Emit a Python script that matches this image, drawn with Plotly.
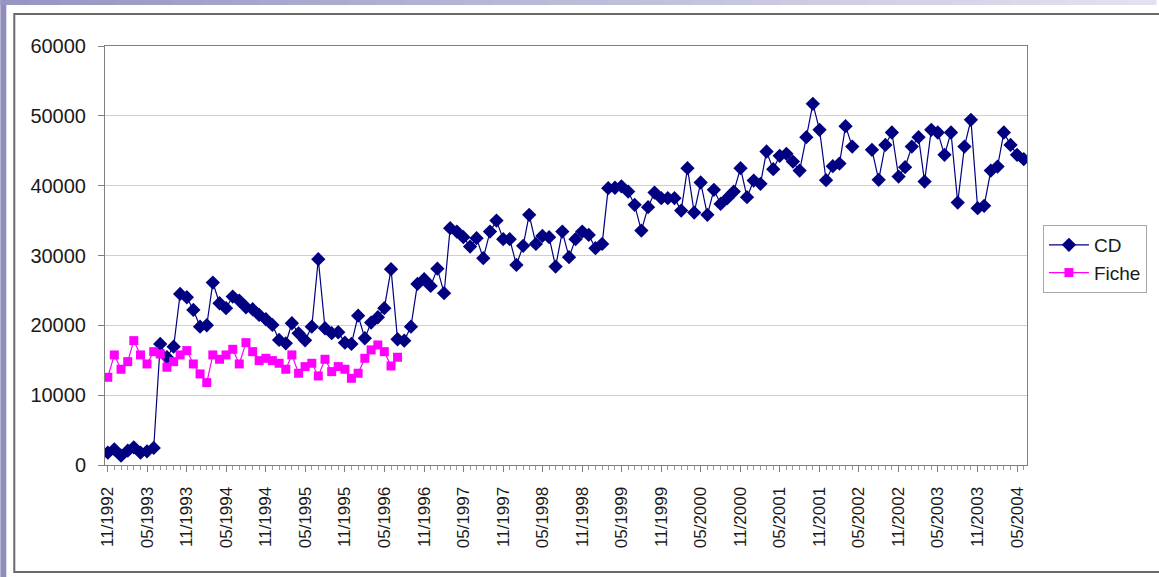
import pandas as pd
import plotly.graph_objects as go

# ---- data ----
start_month = "1992-11-01"
n_months = 140
months = pd.date_range(start_month, periods=n_months, freq="MS")

cd_values = [
    1770, 2250, 1340, 2050, 2530, 1770, 1960, 2440, 17340, 15430,
    16950, 24500, 24020, 22200, 19810, 20010, 26120, 23160, 22450, 24120,
    23540, 22590, 22300, 21490, 20870, 20060, 17910, 17430, 20300, 18850,
    17850, 19810, 29470, 19580, 18870, 19010, 17520, 17340, 21390, 18150,
    20390, 21160, 22450, 28040, 18010, 17810, 19810, 25930, 26600, 25640,
    28120, 24600, 33910, 33420, 32620, 31280, 32480, 29610, 33420, 35000,
    32340, 32340, 28650, 31380, 35820, 31660, 32810, 32620, 28410, 33420,
    29760, 32340, 33420, 32950, 31050, 31660, 39640, 39700, 39900, 39160,
    37250, 33570, 36920, 39010, 38210, 38210, 38210, 36430, 42510, 36150,
    40450, 35820, 39400, 37390, 38210, 39160, 42510, 38350, 40730, 40260,
    44890, 42360, 44270, 44560, 43450, 42160, 46950, 51720, 47990, 40780,
    42790, 43170, 48520, 45600, None, None, 45130, 40830, 45840, 47610,
    41300, 42650, 45600, 46950, 40590, 47990, 47610, 44410, 47610, 37580,
    45600, 49430, 36780, 37110, 42160, 42740, 47610, 45840, 44410, 43800,
]

fiche_values = [
    12560, 15760, 13710, 14800, 17810, 15760, 14470, 16230, 15900, 14000,
    14800, 15760, 16380, 14470, 13040, 11800, 15760, 15140, 15760, 16570,
    14470, 17520, 16230, 14950, 15280, 14950, 14570, 13710, 15760, 13140,
    14090, 14570, 12750, 15140, 13370, 14090, 13710, 12420, 13140, 15280,
    16480, 17190, 16230, 14180, 15430,
]

series_names = ["CD", "Fiche"]
y_ticks = [0, 10000, 20000, 30000, 40000, 50000, 60000]

# ---- geometry helpers (pixel -> paper) ----
W, H = 1159, 577
L, R, T, B = 105, 129, 46, 112
PW, PH = W - L - R, H - T - B


def px(x):
    return (x - L) / PW


def py(y):
    return (H - B - y) / PH


fig = go.Figure()
fig.add_trace(go.Scatter(
    x=months, y=cd_values, name=series_names[0], mode="lines+markers",
    line=dict(color="#000080", width=1.2),
    marker=dict(symbol="diamond", size=11, color="#000080"),
    connectgaps=False,
))
fig.add_trace(go.Scatter(
    x=months[:len(fiche_values)], y=fiche_values, name=series_names[1],
    mode="lines+markers",
    line=dict(color="#ff00ff", width=1.2),
    marker=dict(symbol="square", size=9, color="#ff00ff"),
))

shapes = []
# left purple strip
shapes.append(dict(type="rect", xref="paper", yref="paper",
                   x0=px(0), x1=px(6), y0=py(H), y1=py(0),
                   fillcolor="#8f8dbd", line=dict(width=0), layer="below"))
# top gradient band
c0 = (0x97, 0x95, 0xc3)
c1 = (0xe2, 0xe2, 0xef)
N = 40
for i in range(N):
    t = i / (N - 1)
    col = "rgb(%d,%d,%d)" % tuple(round(a + (b - a) * t) for a, b in zip(c0, c1))
    shapes.append(dict(type="rect", xref="paper", yref="paper",
                       x0=px(W * i / N), x1=px(W * (i + 1) / N + 1),
                       y0=py(5), y1=py(0),
                       fillcolor=col, line=dict(width=0), layer="below"))
# chart frame
shapes.append(dict(type="rect", xref="paper", yref="paper",
                   x0=px(14), x1=px(W + 10), y0=py(572), y1=py(14),
                   line=dict(color="#6a6a6a", width=2), fillcolor="rgba(0,0,0,0)",
                   layer="below"))

font_family = "Arial, Liberation Sans, sans-serif"

fig.update_layout(
    width=W, height=H,
    margin=dict(l=L, r=R, t=T, b=B, pad=0),
    paper_bgcolor="white", plot_bgcolor="white",
    font=dict(family=font_family, color="#1a1a1a"),
    shapes=shapes,
    showlegend=True,
    legend=dict(x=px(1046), y=py(225), xanchor="left", yanchor="top",
                bordercolor="#a8a8a8", borderwidth=1, bgcolor="white",
                font=dict(size=19, family=font_family, color="#1a1a1a"),
                itemwidth=40, tracegroupgap=4),
    xaxis=dict(
        type="date",
        range=["1992-10-19", "2004-06-16"],
        tick0=start_month, dtick="M6", tickformat="%m/%Y",
        tickangle=-90, tickfont=dict(size=17),
        ticks="outside", ticklen=6, tickcolor="#808080",
        ticklabelstandoff=8,
        minor=dict(dtick="M1", tick0=start_month, ticks="outside", ticklen=4,
                   tickcolor="#9a9a9a", showgrid=False),
        showgrid=False, showline=True, linecolor="#808080", linewidth=1,
        mirror=True, zeroline=False,
    ),
    yaxis=dict(
        range=[0, 60000], tickvals=y_ticks, tickformat="d",
        tickfont=dict(size=20),
        ticks="outside", ticklen=6, tickcolor="#808080",
        ticklabelstandoff=8,
        showgrid=True, gridcolor="#cfcfcf", gridwidth=1,
        showline=True, linecolor="#808080", linewidth=1, mirror=True,
        zeroline=False,
    ),
)

fig.write_html(
    "out.html",
    config={"displayModeBar": False},
    post_script="document.body.style.margin='0';document.body.style.overflow='hidden';",
)
